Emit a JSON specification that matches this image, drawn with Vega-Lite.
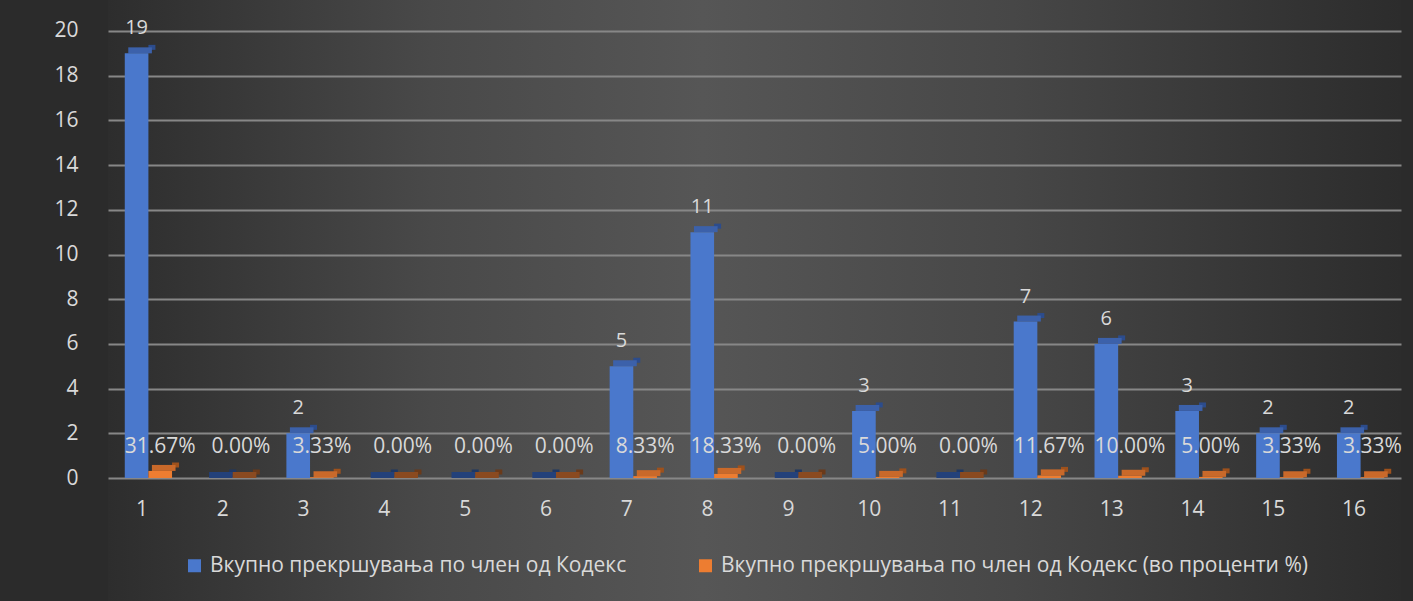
{
  "$schema": "https://vega.github.io/schema/vega-lite/v6.json",
  "width": 1293,
  "height": 601,
  "autosize": {"type": "none"},
  "padding": {"left": 108, "top": 0, "right": 12, "bottom": 0},
  "background": "#2b2b2b",
  "config": {
    "font": "Open Sans",
    "view": {
      "stroke": null,
      "fill": {
        "gradient": "linear",
        "x1": 0, "y1": 0, "x2": 1, "y2": 0,
        "stops": [
          {"offset": 0, "color": "#2d2d2d"},
          {"offset": 0.25, "color": "#494949"},
          {"offset": 0.46, "color": "#565656"},
          {"offset": 0.7, "color": "#474747"},
          {"offset": 0.92, "color": "#333333"},
          {"offset": 1, "color": "#2c2c2c"}
        ]
      }
    },
    "axis": {"labelColor": "#d9d9d9", "labelFontSize": 21, "ticks": false, "domain": false},
    "legend": {"labelColor": "#d9d9d9", "labelFontSize": 21}
  },
  "data": {
    "values": [
      {"cat": 1, "series": "Вкупно прекршувања по член од Кодекс", "value": 19},
      {"cat": 2, "series": "Вкупно прекршувања по член од Кодекс", "value": 0},
      {"cat": 3, "series": "Вкупно прекршувања по член од Кодекс", "value": 2},
      {"cat": 4, "series": "Вкупно прекршувања по член од Кодекс", "value": 0},
      {"cat": 5, "series": "Вкупно прекршувања по член од Кодекс", "value": 0},
      {"cat": 6, "series": "Вкупно прекршувања по член од Кодекс", "value": 0},
      {"cat": 7, "series": "Вкупно прекршувања по член од Кодекс", "value": 5},
      {"cat": 8, "series": "Вкупно прекршувања по член од Кодекс", "value": 11},
      {"cat": 9, "series": "Вкупно прекршувања по член од Кодекс", "value": 0},
      {"cat": 10, "series": "Вкупно прекршувања по член од Кодекс", "value": 3},
      {"cat": 11, "series": "Вкупно прекршувања по член од Кодекс", "value": 0},
      {"cat": 12, "series": "Вкупно прекршувања по член од Кодекс", "value": 7},
      {"cat": 13, "series": "Вкупно прекршувања по член од Кодекс", "value": 6},
      {"cat": 14, "series": "Вкупно прекршувања по член од Кодекс", "value": 3},
      {"cat": 15, "series": "Вкупно прекршувања по член од Кодекс", "value": 2},
      {"cat": 16, "series": "Вкупно прекршувања по член од Кодекс", "value": 2},
      {"cat": 1, "series": "Вкупно прекршувања по член од Кодекс (во проценти %)", "value": 0.3167},
      {"cat": 2, "series": "Вкупно прекршувања по член од Кодекс (во проценти %)", "value": 0},
      {"cat": 3, "series": "Вкупно прекршувања по член од Кодекс (во проценти %)", "value": 0.0333},
      {"cat": 4, "series": "Вкупно прекршувања по член од Кодекс (во проценти %)", "value": 0},
      {"cat": 5, "series": "Вкупно прекршувања по член од Кодекс (во проценти %)", "value": 0},
      {"cat": 6, "series": "Вкупно прекршувања по член од Кодекс (во проценти %)", "value": 0},
      {"cat": 7, "series": "Вкупно прекршувања по член од Кодекс (во проценти %)", "value": 0.0833},
      {"cat": 8, "series": "Вкупно прекршувања по член од Кодекс (во проценти %)", "value": 0.1833},
      {"cat": 9, "series": "Вкупно прекршувања по член од Кодекс (во проценти %)", "value": 0},
      {"cat": 10, "series": "Вкупно прекршувања по член од Кодекс (во проценти %)", "value": 0.05},
      {"cat": 11, "series": "Вкупно прекршувања по член од Кодекс (во проценти %)", "value": 0},
      {"cat": 12, "series": "Вкупно прекршувања по член од Кодекс (во проценти %)", "value": 0.1167},
      {"cat": 13, "series": "Вкупно прекршувања по член од Кодекс (во проценти %)", "value": 0.1},
      {"cat": 14, "series": "Вкупно прекршувања по член од Кодекс (во проценти %)", "value": 0.05},
      {"cat": 15, "series": "Вкупно прекршувања по член од Кодекс (во проценти %)", "value": 0.0333},
      {"cat": 16, "series": "Вкупно прекршувања по член од Кодекс (во проценти %)", "value": 0.0333}
    ]
  },
  "encoding": {
    "x": {
      "field": "cat", "type": "ordinal",
      "scale": {"paddingInner": 0.415, "paddingOuter": 0.2075},
      "axis": {"title": null, "labelAngle": 0, "labelPadding": 0, "offset": -103, "labelOffset": -6.5, "labelBaseline": "top", "grid": false}
    },
    "y": {
      "field": "value", "type": "quantitative",
      "scale": {"domain": [-5.503, 21.387], "nice": false, "zero": true, "padding": 0},
      "axis": {"title": null, "values": [0, 2, 4, 6, 8, 10, 12, 14, 16, 18, 20], "labelPadding": 30, "grid": true, "gridColor": "#878787", "gridWidth": 1.8}
    }
  },
  "layer": [
    {
      "transform": [{"filter": "datum.series == 'Вкупно прекршувања по член од Кодекс'"}],
      "mark": {"type": "bar", "yOffset": -6},
      "encoding": {
        "x": {"field": "cat", "type": "ordinal", "bandPosition": 0.5},
        "x2": {"field": "cat", "bandPosition": 0.648},
        "color": {"condition": {"test": "datum.value == 0", "value": "#1e3763"}, "value": "#2c4c8c"}
      }
    },
    {
      "transform": [{"filter": "datum.series == 'Вкупно прекршувања по член од Кодекс'"}],
      "mark": {"type": "bar", "yOffset": -6},
      "encoding": {
        "x": {"field": "cat", "type": "ordinal", "bandPosition": 0.074},
        "x2": {"field": "cat", "bandPosition": 0.574},
        "y2": {"field": "value"},
        "color": {"condition": {"test": "datum.value == 0", "value": "#23417a"}, "value": "#3c61aa"}
      }
    },
    {
      "transform": [{"filter": "datum.series != 'Вкупно прекршувања по член од Кодекс'"}],
      "mark": {"type": "bar", "yOffset": -6},
      "encoding": {
        "x": {"field": "cat", "type": "ordinal", "bandPosition": 1.0},
        "x2": {"field": "cat", "bandPosition": 1.148},
        "color": {"condition": {"test": "datum.value == 0", "value": "#6a3a1a"}, "value": "#9e511c"}
      }
    },
    {
      "transform": [{"filter": "datum.series != 'Вкупно прекршувања по член од Кодекс'"}],
      "mark": {"type": "bar", "yOffset": -6},
      "encoding": {
        "x": {"field": "cat", "type": "ordinal", "bandPosition": 0.574},
        "x2": {"field": "cat", "bandPosition": 1.074},
        "y2": {"field": "value"},
        "color": {"condition": {"test": "datum.value == 0", "value": "#8a4a20"}, "value": "#c9692a"}
      }
    },
    {
      "mark": {"type": "bar"},
      "encoding": {
        "xOffset": {"field": "series", "type": "nominal"},
        "color": {
          "field": "series", "type": "nominal",
          "scale": {"range": ["#4a78cc", "#ed7d31"]},
          "legend": {
            "title": null, "orient": "none", "legendX": 76, "legendY": 555,
            "direction": "horizontal",
            "symbolType": "square", "symbolSize": 169, "symbolStrokeWidth": 0,
            "labelOffset": 5, "columnPadding": 68, "labelLimit": 900
          }
        }
      }
    },
    {
      "transform": [{"filter": "datum.series == 'Вкупно прекршувања по член од Кодекс' && datum.value > 0"}],
      "mark": {"type": "text", "baseline": "bottom", "dy": -15, "fontSize": 20, "color": "#d9d9d9"},
      "encoding": {
        "xOffset": {"field": "series", "type": "nominal"},
        "text": {"field": "value", "type": "quantitative"}
      }
    },
    {
      "transform": [{"filter": "datum.series != 'Вкупно прекршувања по член од Кодекс'"}],
      "mark": {"type": "text", "baseline": "middle", "fontSize": 21, "color": "#d9d9d9"},
      "encoding": {
        "xOffset": {"field": "series", "type": "nominal"},
        "y": {"datum": 1.4},
        "text": {"field": "value", "type": "quantitative", "format": ".2%"}
      }
    }
  ]
}
